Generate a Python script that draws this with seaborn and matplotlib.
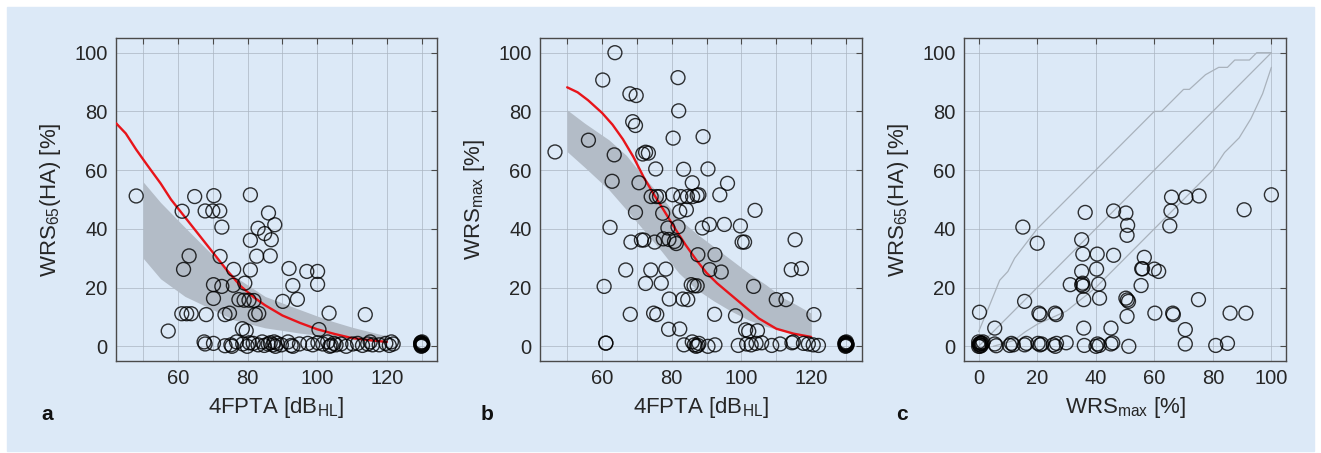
import numpy as np
import pandas as pd
import seaborn as sns
import matplotlib.pyplot as plt
from matplotlib.patches import Rectangle


# ---- panel a: WRS65(HA) vs 4FPTA ----
a_fpta = [48.0, 57.2, 61.2, 61.6, 63.2, 64.8, 70.3, 67.8, 70.0, 72.0, 72.6, 80.8, 86.0,
          87.8, 83.0, 84.9, 80.8, 86.8, 72.1, 82.6, 86.5, 76.0, 80.8, 91.9, 97.0, 100.1,
          100.1, 93.0, 70.2, 72.6, 75.9, 79.2, 70.2, 77.5, 79.0, 80.4, 81.8, 90.1, 94.3,
          61.1, 62.5, 63.8, 68.1, 73.5, 74.8, 82.2, 83.2, 78.5, 79.6, 103.4, 113.8, 100.5,
          67.5, 67.8, 70.2, 73.5, 75.2, 75.5, 76.8, 78.6, 79.9, 80.5, 81.6, 83.0, 84.2,
          84.8, 85.9, 86.5, 87.3, 87.6, 88.0, 88.5, 89.7, 91.6, 92.5, 93.0, 94.9, 97.3,
          98.7, 100.2, 101.6, 103.0, 103.6, 104.0, 104.8, 105.4, 106.8, 108.3, 110.2,
          111.6, 113.0, 114.5, 115.2, 115.9, 117.8, 119.7, 120.7, 121.3, 121.8,
          129.7, 130.0, 130.3, 130.0, 129.8, 130.2, 129.9, 130.1, 130.3, 129.7]
a_wrs = [51.2, 5.2, 46.0, 26.2, 30.8, 51.0, 51.3, 46.1, 46.1, 46.1, 40.6, 51.6, 45.4,
         41.4, 40.2, 38.4, 36.1, 36.3, 30.6, 30.7, 30.8, 26.2, 26.0, 26.5, 25.5, 25.5,
         21.1, 20.7, 21.0, 20.4, 20.8, 21.5, 16.3, 15.9, 15.7, 15.7, 15.6, 15.3, 16.0,
         11.1, 11.1, 11.1, 10.8, 10.8, 11.3, 10.8, 11.2, 6.0, 5.3, 11.3, 10.8, 5.7,
         1.5, 0.8, 1.0, 0.2, 0.5, 0.0, 1.5, 0.8, 0.0, 1.2, 1.0, 0.5, 1.5,
         0.3, 0.8, 1.2, 0.5, 1.5, 0.0, 1.0, 0.5, 1.5, 0.3, 0.0, 0.8, 1.0,
         0.5, 1.2, 0.8, 1.5, 0.0, 0.3, 1.0, 0.5, 0.8, 0.0, 0.8,
         1.0, 0.3, 0.8, 1.5, 0.5, 0.5, 1.0, 0.3, 1.5, 0.8,
         0.5, 1.0, 0.8, 0.2, 1.3, 0.6, 0.0, 1.5, 0.4, 1.0]
a_fit_x = [42.2, 45, 48, 51, 55, 58, 62, 66, 70, 74, 78, 82, 85, 90, 95, 100, 105, 110, 115, 120]
a_fit_y = [76.0, 72.5, 67.0, 62.0, 55.5, 50.0, 44.0, 38.0, 32.0, 26.0, 20.5, 16.5, 14.0,
           10.5, 8.0, 5.8, 4.2, 2.8, 2.1, 1.5]
a_band_x = [50, 55, 62, 70, 76, 85, 95, 103, 110, 120]
a_band_hi = [56.0, 49.0, 40.5, 31.0, 24.0, 17.0, 12.5, 9.0, 6.5, 3.5]
a_band_lo = [30.0, 23.0, 17.0, 12.5, 9.0, 6.3, 4.5, 3.4, 2.3, 1.2]

# ---- panel b: WRSmax vs 4FPTA ----
b_fpta = [46.5, 56.1, 63.7, 60.2, 63.5, 62.9, 62.3, 60.6, 61.1, 68.0, 69.8, 68.8, 69.6,
          71.7, 72.5, 73.3, 70.6, 75.4, 69.6, 68.3, 71.3, 72.0, 74.1, 75.6, 76.5, 77.4,
          75.1, 77.6, 79.2, 80.8, 81.3, 78.9, 81.8, 80.3, 80.4, 81.8, 82.0, 83.4, 82.6,
          84.5, 86.0, 87.3, 87.8, 82.3, 84.2, 85.9, 89.0, 90.4, 88.8, 90.8, 93.8, 96.0,
          95.1, 87.5, 92.4, 90.9, 94.2, 78.3, 74.0, 72.5, 77.0, 66.8, 85.6, 86.4, 87.3,
          79.3, 83.2, 84.6, 68.1, 74.8, 75.7, 92.3, 98.3, 79.1, 82.3, 99.7, 100.2, 100.9,
          103.9, 103.5, 110.0, 112.8, 114.3, 117.2, 115.4, 120.8, 101.2, 102.1, 104.6,
          61.1, 83.5, 85.9, 86.5, 87.0, 87.5, 87.8, 90.4, 92.4, 99.1, 101.5, 102.8, 104.2,
          105.8, 108.7, 111.1, 114.5, 114.9, 117.8, 119.2, 120.6, 122.1,
          129.7, 130.0, 130.3, 130.0, 129.8, 130.2, 129.9, 130.1, 130.3, 129.7]
b_wrs = [66.2, 70.2, 100.0, 90.7, 65.2, 56.2, 40.5, 20.4, 1.1, 86.0, 85.4, 76.5, 75.2,
         65.5, 66.1, 65.8, 55.7, 60.4, 45.6, 35.5, 36.2, 36.2, 51.0, 51.0, 51.0, 45.3,
         35.5, 36.6, 36.4, 35.7, 35.0, 40.3, 40.7, 51.6, 70.9, 91.5, 80.2, 60.3, 51.0,
         51.0, 51.0, 51.4, 51.6, 45.9, 46.5, 55.7, 71.4, 60.4, 40.3, 41.5, 51.6, 55.5,
         41.5, 31.2, 31.2, 26.1, 25.3, 26.3, 26.0, 21.4, 21.5, 26.0, 21.0, 20.6, 20.6,
         16.1, 16.1, 15.9, 10.9, 11.3, 10.8, 10.9, 10.4, 5.8, 5.9, 41.0, 35.5, 35.5,
         46.3, 20.4, 15.9, 15.9, 26.1, 26.5, 36.3, 10.8, 5.6, 5.1, 5.3,
         1.1, 0.5, 1.5, 0.5, 0.0, 0.3, 1.0, 0.0, 0.5, 0.3, 0.8, 0.5, 1.0,
         1.2, 0.3, 0.8, 1.2, 1.5, 1.0, 0.8, 0.5, 0.3,
         0.5, 1.0, 0.8, 0.2, 1.3, 0.6, 0.0, 1.5, 0.4, 1.0]
b_fit_x = [50, 53, 56, 60, 63, 66, 69, 72, 75, 78, 81, 84, 87, 90, 93, 96, 100, 105, 110, 115, 120]
b_fit_y = [88.2, 86.5, 83.8, 79.5, 75.5, 70.5, 64.5, 57.5, 51.5, 45.8, 40.0, 34.5, 29.5,
           25.0, 21.5, 18.5, 14.5, 9.5, 6.0, 4.3, 3.2]
b_band_x = [50, 55, 62, 67, 72, 77, 82, 87, 92, 97, 102, 107, 112, 116, 120]
b_band_hi = [80.5, 76.0, 70.3, 65.0, 57.6, 51.0, 43.5, 38.5, 34.0, 29.5, 25.0, 21.0, 16.5, 14.0, 11.3]
b_band_lo = [66.3, 61.0, 53.3, 46.5, 39.5, 32.5, 25.0, 19.5, 15.5, 12.0, 9.0, 6.8, 5.2, 4.2, 3.2]

# ---- panel c: WRS65(HA) vs WRSmax ----
c_max = [0.3, 5.5, 15.1, 15.7, 20.0, 20.6, 21.0, 26.1, 26.5, 31.3, 35.2, 35.6, 35.2,
         35.2, 35.5, 35.7, 35.9, 35.9, 36.4, 40.5, 40.3, 41.0, 41.3, 46.1, 46.1, 45.2,
         50.3, 50.9, 50.7, 50.3, 50.8, 51.2, 50.7, 56.6, 55.7, 56.0, 55.5, 60.0, 61.5,
         60.2, 65.9, 65.7, 65.3, 66.3, 66.5, 70.8, 70.6, 75.3, 75.1, 85.9, 91.3, 90.7,
         100.0,
         0.0, 0.3, 0.6, 0.0, 0.9, 1.2, 0.5, 1.5, 0.2, 0.8, 5.5, 6.0, 10.6, 11.2, 11.8, 15.7,
         16.3, 20.3, 21.0, 21.5, 25.5, 26.2, 26.6, 29.9, 36.1, 40.1, 40.6, 41.2, 45.2,
         45.8, 51.3, 70.6, 81.0, 85.0]
c_wrs = [11.6, 6.2, 40.6, 15.3, 35.1, 11.3, 10.8, 11.3, 10.8, 21.0, 36.3, 31.4, 25.5,
         21.0, 21.5, 20.5, 15.9, 6.2, 45.6, 31.4, 26.3, 21.2, 16.4, 31.0, 46.1, 6.2,
         45.4, 41.2, 37.8, 16.4, 15.8, 15.3, 10.2, 30.3, 26.4, 26.4, 20.7, 26.3, 25.5,
         11.3, 50.8, 46.1, 41.0, 11.3, 10.8, 50.8, 5.7, 51.2, 15.9, 11.3, 11.3, 46.5,
         51.6,
         0.0, 0.5, 1.0, 1.5, 0.3, 1.0, 0.0, 1.5, 0.8, 1.2, 0.8, 0.2, 0.3, 1.0, 0.5, 0.5,
         1.0, 1.0, 0.5, 0.8, 0.5, 0.0, 1.0, 1.2, 0.3, 0.0, 0.8, 0.3, 0.8,
         1.2, 0.0, 0.8, 0.3, 1.0]
c_up_x = [0, 3.75, 7.2, 10, 12.3, 20, 60, 62.5, 70, 72, 77.5, 82, 85, 87.5, 92.5, 95, 100]
c_up_y = [5, 14, 22.5, 25.5, 30, 40, 80, 80, 87.5, 87.5, 92.5, 95, 95, 97.5, 97.5, 100, 100]
c_lo_x = [5, 12, 16, 20, 30, 35, 40, 80, 84, 89, 93, 97, 100]
c_lo_y = [0, 2, 5, 7.5, 12, 16, 20, 60, 66, 71, 77.5, 86, 95]
c_diag = [0, 100]

W, H = 1321, 453
BG = '#dce9f7'
TXT = '#262626'
RED = '#e8141a'
BAND = '#b3bcc7'
LIMIT = '#a9b2bc'

sns.set_style('white')
plt.rcParams['font.family'] = ['Liberation Sans', 'DejaVu Sans']
plt.rcParams['mathtext.fontset'] = 'custom'
plt.rcParams['mathtext.rm'] = 'Liberation Sans'
plt.rcParams['mathtext.it'] = 'Liberation Sans:italic'
plt.rcParams['mathtext.default'] = 'regular'

fig = plt.figure(figsize=(W / 100, H / 100), dpi=100, facecolor='white')
fig.patches.append(Rectangle((7 / W, 2 / H), (W - 14) / W, (H - 9) / H,
                             transform=fig.transFigure, color=BG, zorder=-10))

ax_a = fig.add_axes([116 / W, 1 - 361 / H, 321 / W, 323 / H])
ax_b = fig.add_axes([540 / W, 1 - 361 / H, 322 / W, 323 / H])
ax_c = fig.add_axes([964 / W, 1 - 361 / H, 322 / W, 323 / H])


def style(ax, xlim, xticks, xlabels, xlabel, ylabel):
    ax.set_facecolor('none')
    ax.set_xlim(*xlim)
    ax.set_ylim(-5, 105)
    ax.set_xticks(xticks)
    ax.set_xticklabels(xlabels)
    ax.set_yticks([0, 20, 40, 60, 80, 100])
    ax.grid(True, color='#aab4c0', lw=0.7, alpha=0.7)
    ax.set_axisbelow(True)
    for sp in ax.spines.values():
        sp.set_color('#4a4a4a')
        sp.set_linewidth(1.0)
    ax.tick_params(direction='in', top=True, right=True, length=4, width=0.8,
                   color='#4a4a4a', labelsize=14.5, labelcolor=TXT, pad=6)
    ax.set_xlabel(xlabel, fontsize=16, color=TXT, labelpad=5)
    ax.set_ylabel(ylabel, fontsize=16, color=TXT, labelpad=8)


def circles(ax, x, y):
    sns.scatterplot(x=x, y=y, ax=ax, marker='o', s=100, facecolor='none',
                    edgecolor=(0, 0, 0, 0.8), linewidth=1.0, zorder=4)


fpta_ticks = list(range(50, 131, 10))
fpta_labels = ['' if t % 20 else str(t) for t in fpta_ticks]
fpta_labels[0] = ''
fpta_labels[-1] = ''

# panel a
ax_a.fill_between(a_band_x, a_band_lo, a_band_hi, color=BAND, lw=0, zorder=2)
sns.lineplot(x=a_fit_x, y=a_fit_y, ax=ax_a, color=RED, lw=1.7, sort=False,
             estimator=None, zorder=3)
circles(ax_a, a_fpta, a_wrs)
style(ax_a, (42.2, 134.4), fpta_ticks, fpta_labels,
      r'4FPTA [dB$_{HL}$]', r'WRS$_{65}$(HA) [%]')

# panel b
ax_b.fill_between(b_band_x, b_band_lo, b_band_hi, color=BAND, lw=0, zorder=2)
sns.lineplot(x=b_fit_x, y=b_fit_y, ax=ax_b, color=RED, lw=1.7, sort=False,
             estimator=None, zorder=3)
circles(ax_b, b_fpta, b_wrs)
style(ax_b, (42.2, 134.6), fpta_ticks, fpta_labels,
      r'4FPTA [dB$_{HL}$]', r'WRS$_{max}$ [%]')

# panel c
for lx, ly in [(c_up_x, c_up_y), (c_diag, c_diag), (c_lo_x, c_lo_y)]:
    sns.lineplot(x=lx, y=ly, ax=ax_c, color=LIMIT, lw=0.9, sort=False,
                 estimator=None, zorder=3)
circles(ax_c, c_max, c_wrs)
style(ax_c, (-5, 105), [0, 20, 40, 60, 80, 100], ['0', '20', '40', '60', '80', '100'],
      r'WRS$_{max}$ [%]', r'WRS$_{65}$(HA) [%]')

for letter, px in [('a', 47), ('b', 487), ('c', 902)]:
    fig.text(px / W, 1 - 415 / H, letter, fontsize=15, fontweight='bold',
             color='#111111', ha='center', va='center')

fig.savefig('out.png', dpi=100, facecolor='white')
